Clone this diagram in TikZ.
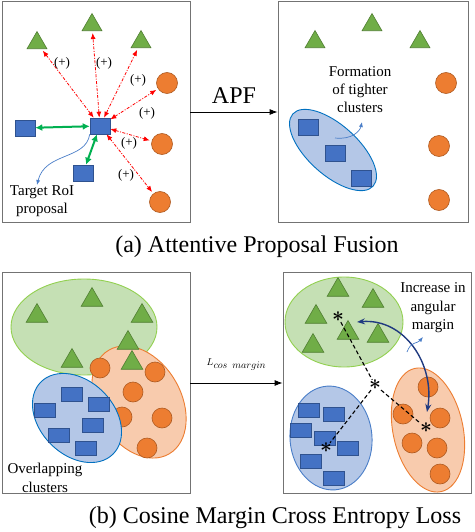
\documentclass[tikz,border=0pt]{standalone}
\usepackage{fontspec}
\setmainfont{Liberation Serif}
\usetikzlibrary{arrows.meta,shapes.geometric}
\definecolor{trig}{HTML}{70AD47}
\definecolor{trigd}{HTML}{507E32}
\definecolor{doto}{HTML}{ED7D31}
\definecolor{dotod}{HTML}{AE5A21}
\definecolor{roib}{HTML}{4472C4}
\definecolor{roibd}{HTML}{2F528F}
\definecolor{grnc}{HTML}{00B050}
\definecolor{ellb}{HTML}{B4C7E7}
\definecolor{ellbd}{HTML}{0070C0}
\definecolor{ellg}{HTML}{C5E0B4}
\definecolor{ellgd}{HTML}{92D050}
\definecolor{ello}{HTML}{F8CBAD}
\definecolor{hintc}{HTML}{4A7EC8}
\definecolor{navy}{HTML}{203A80}
\begin{document}
\begin{tikzpicture}[x=1pt,y=-1pt,
    pnl/.style={draw=black!55,line width=0.8pt,minimum width=188,minimum height=221,inner sep=0},
    tri/.style={regular polygon,regular polygon sides=3,minimum size=23,inner sep=0,fill=trig,draw=trigd,line width=0.6pt},
    dot/.style={circle,minimum size=21,inner sep=0,fill=doto,draw=dotod,line width=0.6pt},
    roi/.style={rectangle,minimum width=20,minimum height=16,inner sep=0,fill=roib,draw=roibd,line width=0.6pt},
    bx/.style={roi,minimum width=21,minimum height=14},
    grp/.style={ellipse,line width=0.9pt,inner sep=0},
    rel/.style={red,line width=0.8pt,dash pattern=on 3pt off 1.5pt on 1pt off 1.5pt,shorten >=2pt,{Latex[length=6pt,width=5pt]}-{Latex[length=6pt,width=5pt]}},
    grn/.style={draw=grnc,line width=2pt,{Latex[length=7pt,width=7pt]}-{Latex[length=7pt,width=7pt]}},
    lc/.style={font=\fontsize{13}{15}\selectfont,inner sep=0},
    note/.style={font=\fontsize{15}{18}\selectfont,align=center,inner sep=0},
    flow/.style={-{Latex[length=8pt,width=6pt]},line width=0.8pt},
    hint/.style={-{Latex[length=5pt,width=4pt]},draw=hintc,line width=0.7pt},
    mrg/.style={draw=navy,line width=1.4pt,{Stealth[length=8pt,width=6pt]}-{Stealth[length=8pt,width=6pt]}},
    dsh/.style={line width=1.1pt,dash pattern=on 4pt off 2.5pt},
    star/.style={font=\fontsize{22}{22}\selectfont\boldmath,inner sep=0},
    capt/.style={font=\fontsize{24}{28}\selectfont,inner sep=0}]
    \useasboundingbox (0,0) rectangle (474,532);
    % (a)
    \node[pnl] (pa1) at (96,112) {};
    \node[pnl,minimum width=190] (pa2) at (373,112) {};
    \draw[flow] (pa1.east) -- (pa2.west) node[midway,above=5pt,font=\fontsize{24}{28}\selectfont] (apf) {APF};
    \node[roi] (tgt) at (100,126) {};
    \node[roi] (lft) at (25,128) {};
    \node[roi] (btm) at (83,173) {};
    \foreach[count=\i] \x/\y in {37/43,92/25,141/42} \node[tri] (t\i) at (\x,\y) {};
    \foreach[count=\i] \x/\y in {167/83,162/144,160/202} \node[dot] (c\i) at (\x,\y) {};
    \foreach \n/\lx/\ly in {t1/62/63,t2/104/63,t3/138/80,c1/147/113,c2/129/143,c3/126/175} {
        \draw[rel] (tgt) -- (\n);
        \node[lc] (l\n) at (\lx,\ly) {(+)};
    }
    \draw[grn] (lft) -- (tgt);
    \draw[grn] (tgt) -- (btm);
    \node[note] (roitxt) at (42,201) {Target RoI\\proposal};
    \coordinate (roitip) at (37,185);
    \draw[hint] (tgt.south west) .. controls (86,160) and (45,152) .. (roitip);
    \foreach[count=\i] \x/\y in {315/42,372/25,420/42} \node[tri] (u\i) at (\x,\y) {};
    \foreach[count=\i] \x/\y in {446/83,439/146,439/200} \node[dot] (d\i) at (\x,\y) {};
    \node[grp,fill=ellb,draw=ellbd,minimum width=108,minimum height=50,rotate=-42] (cl) at (333,150) {};
    \foreach[count=\i] \x/\y in {308/127,335/153,361/178} \node[roi] (r\i) at (\x,\y) {};
    \node[note] (form) at (360,90) {Formation\\of tighter\\clusters};
    \coordinate (fa) at (335,138);
    \coordinate (fb) at (362,122);
    \draw[hint] (fa) .. controls (352,140) and (360,131) .. (fb);
    \node[capt] (ca) at (257,247) {(a) Attentive Proposal Fusion};
    % (b)
    \node[pnl] (pb1) at (96,383) {};
    \node[pnl] (pb2) at (377,383) {};
    \draw[flow] (pb1.east) -- (pb2.west) node[midway,above=9pt,font=\fontsize{10}{12}\selectfont] (lcos) {$L_{\textstyle cos\ \ margin}$};
    \node[grp,fill=ellg,draw=ellgd,minimum width=146,minimum height=96] (gg) at (84,327) {};
    \node[grp,fill=ello,draw=doto,minimum width=120,minimum height=84,rotate=-60] (og) at (139,402) {};
    \foreach[count=\i] \x/\y in {37/316,92/300,142/316,128/343,72/361,132/363} \node[tri,minimum size=25] (gt\i) at (\x,\y) {};
    \foreach[count=\i] \x/\y in {100/368,155/372,133/392,122/417,162/418,147/448} \node[dot,minimum size=20] (oc\i) at (\x,\y) {};
    \node[grp,fill=ellb,draw=ellbd,minimum width=102,minimum height=74,rotate=-45] (bg) at (77,418) {};
    \foreach[count=\i] \x/\y in {72/394,45/410,99/404,93/425,59/435,86/448} \node[bx] (bs\i) at (\x,\y) {};
    \node[note,font=\fontsize{15}{19}\selectfont] (ovl) at (45,478) {Overlapping\\clusters};
    \node[grp,fill=ellg,draw=ellgd,minimum width=118,minimum height=90] (hg) at (344,322) {};
    \foreach[count=\i] \x/\y in {338/290,373/301,316/317,348/333,378/336,313/346} \node[tri,minimum size=25] (ht\i) at (\x,\y) {};
    \node[grp,fill=ellb,draw=hintc,minimum width=104,minimum height=82,rotate=-85] (hb) at (331,438) {};
    \foreach[count=\i] \x/\y in {309/410,334/414,301/430,325/438,348/448,311/461,334/478} \node[bx] (hs\i) at (\x,\y) {};
    \node[grp,fill=ello,draw=doto,minimum width=126,minimum height=70,rotate=-78] (ho) at (428,430) {};
    \foreach[count=\i] \x/\y in {428/387,403/414,440/418,412/443,437/448,440/474} \node[dot,minimum size=20] (hc\i) at (\x,\y) {};
    \node[star] (sg) at (338,317) {$\ast$};
    \node[star] (sm) at (375,385) {$\ast$};
    \node[star] (so) at (426,428) {$\ast$};
    \node[star] (sb) at (326,448) {$\ast$};
    \draw[dsh] (sg) -- (sm);
    \draw[dsh] (sm) -- (so);
    \draw[dsh] (sm) -- (sb);
    \coordinate (ma) at (357,322);
    \coordinate (mb) at (427,412);
    \draw[mrg] (ma) .. controls (405,318) and (435,365) .. (mb);
    \node[note,font=\fontsize{15}{18.5}\selectfont] (inc) at (433,308) {Increase in\\angular\\margin};
    \coordinate (ia) at (407,352);
    \coordinate (ib) at (423,337);
    \draw[hint] (ia) .. controls (411,341) and (417,344) .. (ib);
    \node[capt] (cb) at (275,518) {(b) Cosine Margin Cross Entropy Loss};
\end{tikzpicture}
\end{document}
